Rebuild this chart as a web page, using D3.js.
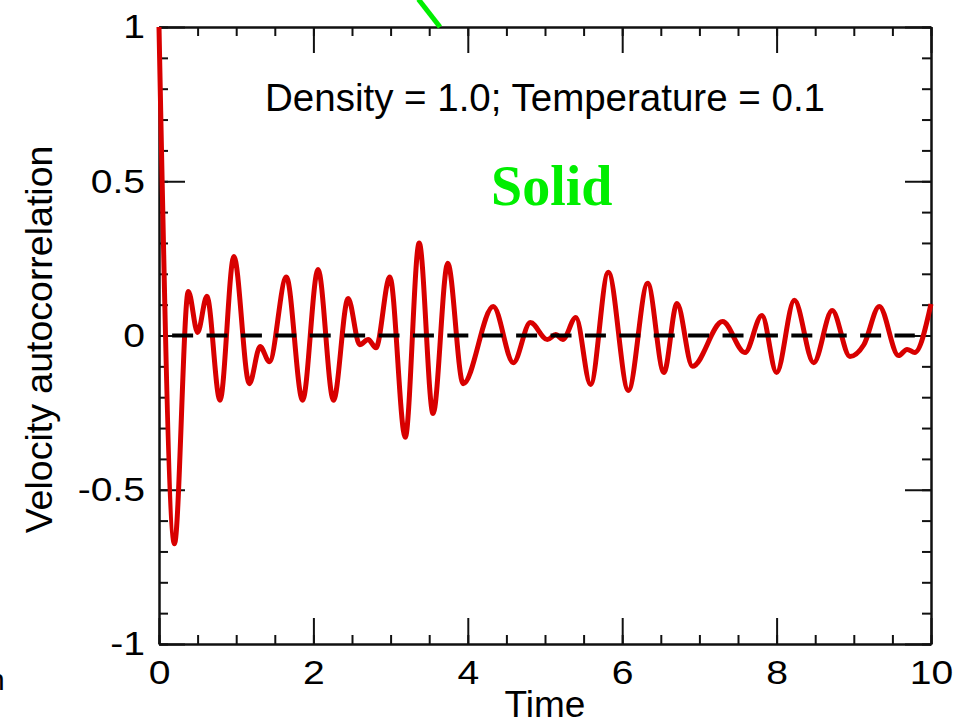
<!DOCTYPE html>
<html>
<head>
<meta charset="utf-8">
<script src="https://cdn.jsdelivr.net/npm/d3@7"></script>
<style>
  body { margin: 0; background: #fff; }
  svg { display: block; }
</style>
</head>
<body>
<div class="js-vacf"></div>
<script>
// values (peaks, troughs and small wiggles)
const time = [0, 0.2, 0.38, 0.5, 0.62, 0.79, 0.97, 1.17, 1.31, 1.43, 1.65, 1.86, 2.06, 2.26, 2.45,
  2.60, 2.71, 2.81, 2.99, 3.19, 3.37, 3.55, 3.74, 3.94, 4.33, 4.59, 4.81, 5.03, 5.14, 5.23, 5.40,
  5.59, 5.82, 6.08, 6.33, 6.54, 6.71, 6.91, 7.30, 7.59, 7.81, 8.00, 8.23, 8.48, 8.72, 8.95, 9.13,
  9.33, 9.58, 9.69, 9.79, 10.0];
const vacf = [1, -0.675, 0.143, 0.01, 0.127, -0.21, 0.256, -0.156, -0.036, -0.085, 0.19, -0.21, 0.214, -0.21, 0.12,
  -0.03, -0.013, -0.04, 0.19, -0.33, 0.30, -0.253, 0.234, -0.156, 0.094, -0.088, 0.042, -0.013, 0.003, -0.013, 0.058,
  -0.159, 0.205, -0.178, 0.169, -0.12, 0.104, -0.10, 0.045, -0.055, 0.065, -0.12, 0.114, -0.088, 0.081, -0.068, -0.03,
  0.094, -0.065, -0.045, -0.055, 0.102];

const xTicks = [0, 2, 4, 6, 8, 10];
const yTicks = [-1, -0.5, 0, 0.5, 1];
const zeroLine = [0.17, 9.79];
const arrowPart = [[3.36, 1.09], [3.64, 1.0]];

const title = "Density = 1.0; Temperature = 0.1";
const phaseLabel = "Solid";
const xLabel = "Time";
const yLabel = "Velocity autocorrelation";

(function() {
  const width = 969
      , height = 723
      , plotLeft = 159
      , plotRight = 931
      , plotTop = 27
      , plotBottom = 644
      ;

  const labelStretch = 1.15;

  const svg = d3.select(".js-vacf")
    .append("svg")
    .attr("width", width)
    .attr("height", height)
    .style("font-family", "'Liberation Sans', Arial, Helvetica, sans-serif");

  const x = d3.scaleLinear().domain([0, 10]).range([plotLeft, plotRight]);
  const y = d3.scaleLinear().domain([-1, 1]).range([plotBottom, plotTop]);

  // minor ticks first, then major ones with labels
  function drawAxis(axisFn, scale, pos, minorTicks, majorTicks, labels) {
    const minor = svg.append("g")
      .attr("transform", pos)
      .call(axisFn(scale).tickValues(minorTicks).tickSize(-9).tickSizeOuter(0).tickFormat(""));

    const major = svg.append("g")
      .attr("transform", pos)
      .call(axisFn(scale).tickValues(majorTicks).tickSize(-26).tickSizeOuter(0)
        .tickPadding(axisFn === d3.axisLeft ? 14 : 16)
        .tickFormat(labels ? (d => String(d)) : ""));

    [minor, major].forEach(g => {
      g.select(".domain").attr("stroke", "#111").attr("stroke-width", 2);
      g.selectAll(".tick line").attr("stroke", "#111").attr("stroke-width", 2);
    });

    major.selectAll("text")
      .attr("fill", "#000")
      .style("font-size", "34px")
      .attr("transform", `scale(${labelStretch},1)`);

    if (axisFn === d3.axisLeft) {
      major.selectAll("text").attr("x", -14 / labelStretch);
    }
    return major;
  }

  drawAxis(d3.axisBottom, x, `translate(0,${plotBottom})`, x.ticks(20), xTicks, true);
  drawAxis(d3.axisTop, x, `translate(0,${plotTop})`, x.ticks(20), xTicks, false);
  drawAxis(d3.axisLeft, y, `translate(${plotLeft},0)`, y.ticks(20), yTicks, true);
  drawAxis(d3.axisRight, y, `translate(${plotRight},0)`, y.ticks(20), yTicks, false);

  // the curve
  const line = d3.line()
    .x((d, i) => x(time[i]))
    .y(d => y(d))
    .curve(d3.curveMonotoneX);

  svg.append("path")
    .datum(vacf)
    .attr("fill", "none")
    .attr("stroke", "#d80000")
    .attr("stroke-width", 5)
    .attr("stroke-linejoin", "round")
    .attr("d", line);

  // dashed zero line
  svg.append("line")
    .attr("x1", x(zeroLine[0]))
    .attr("x2", x(zeroLine[1]))
    .attr("y1", y(0))
    .attr("y2", y(0))
    .attr("stroke", "#000")
    .attr("stroke-width", 4)
    .attr("stroke-dasharray", "21,13.4");

  // green arrow piece coming from above
  svg.append("line")
    .attr("x1", x(arrowPart[0][0]))
    .attr("y1", y(arrowPart[0][1]))
    .attr("x2", x(arrowPart[1][0]))
    .attr("y2", y(arrowPart[1][1]))
    .attr("stroke", "#00ee00")
    .attr("stroke-width", 5);

  svg.append("text")
    .attr("x", (plotLeft + plotRight) / 2)
    .attr("y", 111)
    .attr("text-anchor", "middle")
    .style("font-size", "38.5px")
    .attr("fill", "#000")
    .text(title);

  svg.append("text")
    .attr("x", 491)
    .attr("y", 205)
    .style("font-family", "'Liberation Serif', 'Times New Roman', serif")
    .style("font-weight", "bold")
    .style("font-size", "56px")
    .attr("fill", "#00ee00")
    .text(phaseLabel);

  svg.append("text")
    .attr("x", (plotLeft + plotRight) / 2)
    .attr("y", 717)
    .attr("text-anchor", "middle")
    .style("font-size", "37px")
    .attr("fill", "#000")
    .text(xLabel);

  svg.append("text")
    .attr("transform", `translate(52,${(plotTop + plotBottom) / 2 + 4}) rotate(-90)`)
    .attr("text-anchor", "middle")
    .style("font-size", "37.5px")
    .attr("fill", "#000")
    .text(yLabel);

  // clipped letter at the lower left edge
  svg.append("text")
    .attr("x", -12)
    .attr("y", 690)
    .style("font-size", "30px")
    .attr("fill", "#000")
    .text("n");
})();
</script>
</body>
</html>
